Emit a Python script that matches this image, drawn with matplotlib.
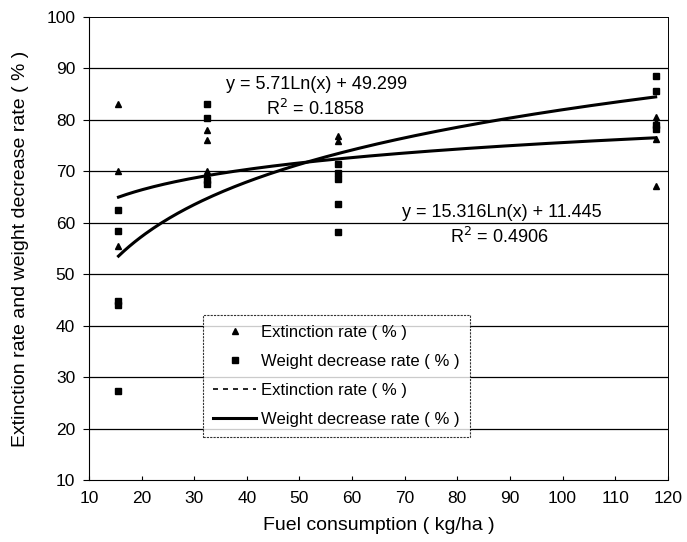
import matplotlib.pyplot as plt
import numpy as np
from matplotlib.lines import Line2D

plt.rcParams['font.family'] = ['Liberation Sans', 'DejaVu Sans']

# fuel consumption levels (kg/ha)
ext_x = [15.6, 15.6, 15.6,
         32.5, 32.5, 32.5, 32.5,
         57.3, 57.3,
         117.7, 117.7, 117.7, 117.7]
ext_y = [83.0, 70.0, 55.5,
         78.0, 76.0, 70.0, 69.2,
         76.9, 75.9,
         80.6, 79.6, 76.3, 67.1]

wt_x = [15.6, 15.6, 15.6, 15.6, 15.6,
        32.5, 32.5, 32.5, 32.5,
        57.3, 57.3, 57.3, 57.3, 57.3,
        117.7, 117.7, 117.7, 117.7]
wt_y = [62.4, 58.5, 44.8, 44.0, 27.3,
        83.0, 80.4, 68.3, 67.5,
        71.5, 69.6, 68.6, 63.7, 58.2,
        88.6, 85.6, 79.1, 78.2]

# log trend coefficients (from the chart)
ext_a, ext_b = 5.71, 49.299
wt_a, wt_b = 15.316, 11.445

fig, ax = plt.subplots(figsize=(6.87, 5.42), dpi=100)
fig.subplots_adjust(left=0.1296, right=0.972, bottom=0.1144, top=0.9686)

for v in range(20, 100, 10):
    ax.axhline(v, color='k', linewidth=0.9, zorder=1)

ax.plot(ext_x, ext_y, '^', color='k', markersize=5, zorder=3)
ax.plot(wt_x, wt_y, 's', color='k', markersize=4.5, zorder=3)

xs = np.linspace(min(ext_x), max(ext_x), 200)
ax.plot(xs, ext_a * np.log(xs) + ext_b, color='k', linewidth=2.2, zorder=2)
ax.plot(xs, wt_a * np.log(xs) + wt_b, color='k', linewidth=2.2, zorder=2)

ax.text(53.2, 86.8, 'y = 5.71Ln(x) + 49.299', fontsize=13, ha='center', va='center')
ax.text(53.0, 82.1, 'R$^2$ = 0.1858', fontsize=13, ha='center', va='center')
ax.text(88.5, 62.0, 'y = 15.316Ln(x) + 11.445', fontsize=13, ha='center', va='center')
ax.text(88.0, 57.2, 'R$^2$ = 0.4906', fontsize=13, ha='center', va='center')

ax.set_xlim(10, 120)
ax.set_ylim(10, 100)
ax.set_xticks(np.arange(10, 121, 10))
ax.set_yticks(np.arange(10, 101, 10))
ax.tick_params(axis='x', direction='in', length=3, labelsize=12.5, pad=8)
ax.tick_params(axis='y', direction='out', length=4, labelsize=12.5, pad=6)

ax.spines['top'].set_linestyle((0, (2, 1)))
ax.spines['right'].set_linestyle((0, (2, 1)))
ax.spines['top'].set_linewidth(0.7)
ax.spines['right'].set_linewidth(0.7)

ax.set_xlabel('Fuel consumption ( kg/ha )', fontsize=14, labelpad=8)
ax.set_ylabel('Extinction rate and weight decrease rate ( % )', fontsize=14, labelpad=12)

handles = [
    Line2D([], [], marker='^', color='k', linestyle='none', markersize=5),
    Line2D([], [], marker='s', color='k', linestyle='none', markersize=4.5),
    Line2D([], [], color='k', linestyle=(0, (3, 3)), linewidth=1.2),
    Line2D([], [], color='k', linewidth=2.2),
]
labels = ['Extinction rate ( % )', 'Weight decrease rate ( % )',
          'Extinction rate ( % )', 'Weight decrease rate ( % )']
leg = ax.legend(handles, labels, loc='upper left', bbox_to_anchor=(0.197, 0.357),
                fontsize=12, frameon=True, fancybox=False, edgecolor='k',
                handlelength=2.6, handletextpad=0.3, labelspacing=0.85, borderpad=0.6,
                borderaxespad=0)
leg.get_frame().set_linewidth(0.8)
leg.get_frame().set_linestyle((0, (2, 1)))

fig.savefig('out.png', dpi=100)
